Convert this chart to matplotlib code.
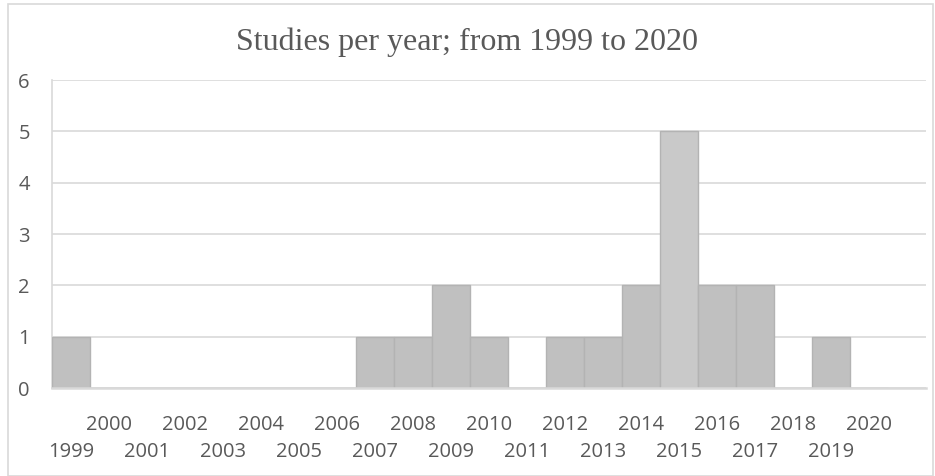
import matplotlib.pyplot as plt
from matplotlib.patches import Rectangle

years = list(range(1999, 2021))
studies = [1, 0, 0, 0, 0, 0, 0, 0, 1, 1, 2, 1, 0, 1, 1, 2, 5, 2, 2, 0, 1, 0]
yticks = [0, 1, 2, 3, 4, 5, 6]

label_color = '#595959'
grid_color = '#d9d9d9'

fig = plt.figure(figsize=(9.35, 4.76), dpi=100)
ax = fig.add_axes([52 / 935, 88 / 476, (926 - 52) / 935, (396 - 88) / 476])

# figure frame like the Excel chart border
fig.patches.append(Rectangle((8 / 935, 0), 925 / 935, 472 / 476, transform=fig.transFigure,
                             fill=False, edgecolor=grid_color, linewidth=1.2))

x = list(range(len(years)))
bars = ax.bar(x, studies, width=1.0, color='#c0c0c0', edgecolor='#b3b3b3', linewidth=1, zorder=3)
# the peak bar is a touch lighter
bars[years.index(2015)].set_facecolor('#c9c9c9')

ax.set_xlim(-0.5, 22.5)
ax.set_ylim(0, 6)
ax.set_yticks(yticks)
ax.grid(axis='y', color=grid_color, linewidth=1.2, zorder=0)

# even years on the upper row, odd years on the lower row
even_x = [i for i, y in zip(x, years) if y % 2 == 0]
odd_x = [i for i, y in zip(x, years) if y % 2 == 1]
ax.set_xticks(even_x)
ax.set_xticklabels([str(years[i]) for i in even_x])
ax.set_xticks(odd_x, minor=True)
ax.set_xticklabels([str(years[i]) for i in odd_x], minor=True)

for lab in ax.get_xticklabels() + ax.get_xticklabels(minor=True) + ax.get_yticklabels():
    lab.set_fontfamily('Open Sans')
    lab.set_fontsize(14.5)
    lab.set_color(label_color)

ax.tick_params(axis='both', which='both', length=0)
ax.tick_params(axis='x', which='major', pad=19.5)
ax.tick_params(axis='x', which='minor', pad=39)
ax.tick_params(axis='y', pad=16)

for s in ['top', 'right']:
    ax.spines[s].set_visible(False)
ax.spines['left'].set_color(grid_color)
ax.spines['left'].set_linewidth(1.2)
ax.spines['bottom'].set_color(grid_color)
ax.spines['bottom'].set_linewidth(1.8)
ax.spines['bottom'].set_zorder(4)

fig.text(0.5, 0.912, 'Studies per year; from 1999 to 2020', ha='center', va='center',
         fontfamily='Liberation Serif', fontsize=23, color=label_color)

fig.savefig('out.png', dpi=100)
